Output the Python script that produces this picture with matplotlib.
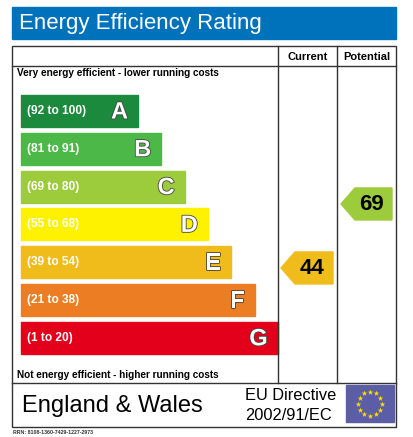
import numpy as np
import matplotlib.pyplot as plt
import matplotlib.patheffects as pe
from matplotlib.patches import Rectangle, Polygon

bands = ["A", "B", "C", "D", "E", "F", "G"]
ranges = ["(92 to 100)", "(81 to 91)", "(69 to 80)", "(55 to 68)",
          "(39 to 54)", "(21 to 38)", "(1 to 20)"]
lows = [92, 81, 69, 55, 39, 21, 1]
colors = ["#1b8a3c", "#4cb848", "#9ccb3c", "#fff200", "#f0bc1c", "#ec7d22", "#e2001a"]
current = 44
potential = 69

plt.rcParams['font.family'] = ['Liberation Sans', 'DejaVu Sans']
fig = plt.figure(figsize=(4.13, 4.37), dpi=100)
ax = fig.add_axes([0, 0, 1, 1])
ax.set_xlim(0, 413)
ax.set_ylim(437, 0)
ax.axis('off')

def band_of(v):
    for i, lo in enumerate(lows):
        if v >= lo:
            return i
    return len(lows) - 1

# title bar
ax.add_patch(Rectangle((12, 7), 384, 32, color="#0072bc"))
ax.text(19, 23.5, "Energy Efficiency Rating", color="white", fontsize=16, va='center')

# frame
lw = 1.0
ax.add_patch(Rectangle((12, 46), 384, 381, fill=False, lw=lw, ec="#333333"))
ax.plot([12, 396], [66, 66], color="#333333", lw=lw)
ax.plot([12, 396], [383, 383], color="#333333", lw=lw)
ax.plot([278, 278], [46, 383], color="#333333", lw=lw)
ax.plot([337, 337], [46, 383], color="#333333", lw=lw)
ax.text(307.5, 57, "Current", fontsize=8, weight='bold', ha='center', va='center')
ax.text(366.5, 57, "Potential", fontsize=8, weight='bold', ha='center', va='center')
ax.text(17, 73, "Very energy efficient - lower running costs", fontsize=7.2, weight='bold', va='center')
ax.text(17, 375, "Not energy efficient - higher running costs", fontsize=7.2, weight='bold', va='center')

outline = [pe.withStroke(linewidth=1.2, foreground="#444444")]
top0, step, h = 95, 37.8, 32
for i, (b, r, c) in enumerate(zip(bands, ranges, colors)):
    y = top0 + i * step
    x1 = 138 + i * 23.3
    ax.add_patch(Rectangle((21, y), x1 - 21, h, color=c))
    ax.text(27, y + h / 2, r, color="white", fontsize=8.6, weight='bold', va='center')
    ax.text(x1 - 10, y + h / 2 + 1, b, color="white", fontsize=17, weight='bold',
            va='center', ha='right', path_effects=outline)

def arrow(x0, x1, v):
    i = band_of(v)
    y = 364.6 - 2.56 * v  # arrow position follows the rating value
    ax.add_patch(Polygon([(x0, y + h / 2), (x0 + 14, y), (x1, y), (x1, y + h), (x0 + 14, y + h)],
                         closed=True, color=colors[i]))
    ax.text((x0 + 14 + x1) / 2 - 2, y + h / 2 + 1, str(v), fontsize=16, weight='bold',
            ha='center', va='center', color="black")

arrow(281, 333, current)
arrow(341, 392, potential)

# footer
ax.text(22, 406, "England & Wales", fontsize=17, va='center')
ax.text(245, 395, "EU Directive", fontsize=11.8, va='center')
ax.text(245, 416, "2002/91/EC", fontsize=11.8, va='center')
ax.add_patch(Rectangle((346, 385), 48, 37, color="#5b5ea6"))
ang = np.linspace(0, 2 * np.pi, 13)[:-1]
ax.scatter(370 + 12 * np.cos(ang), 403.5 + 12 * np.sin(ang), marker='*', s=18, color="#ffdd00", lw=0)
ax.text(13, 433, "RRN: 8108-1360-7429-1227-2973", fontsize=3.8, weight='bold', va='center', color="#333333")

fig.savefig("out.png", dpi=100)
